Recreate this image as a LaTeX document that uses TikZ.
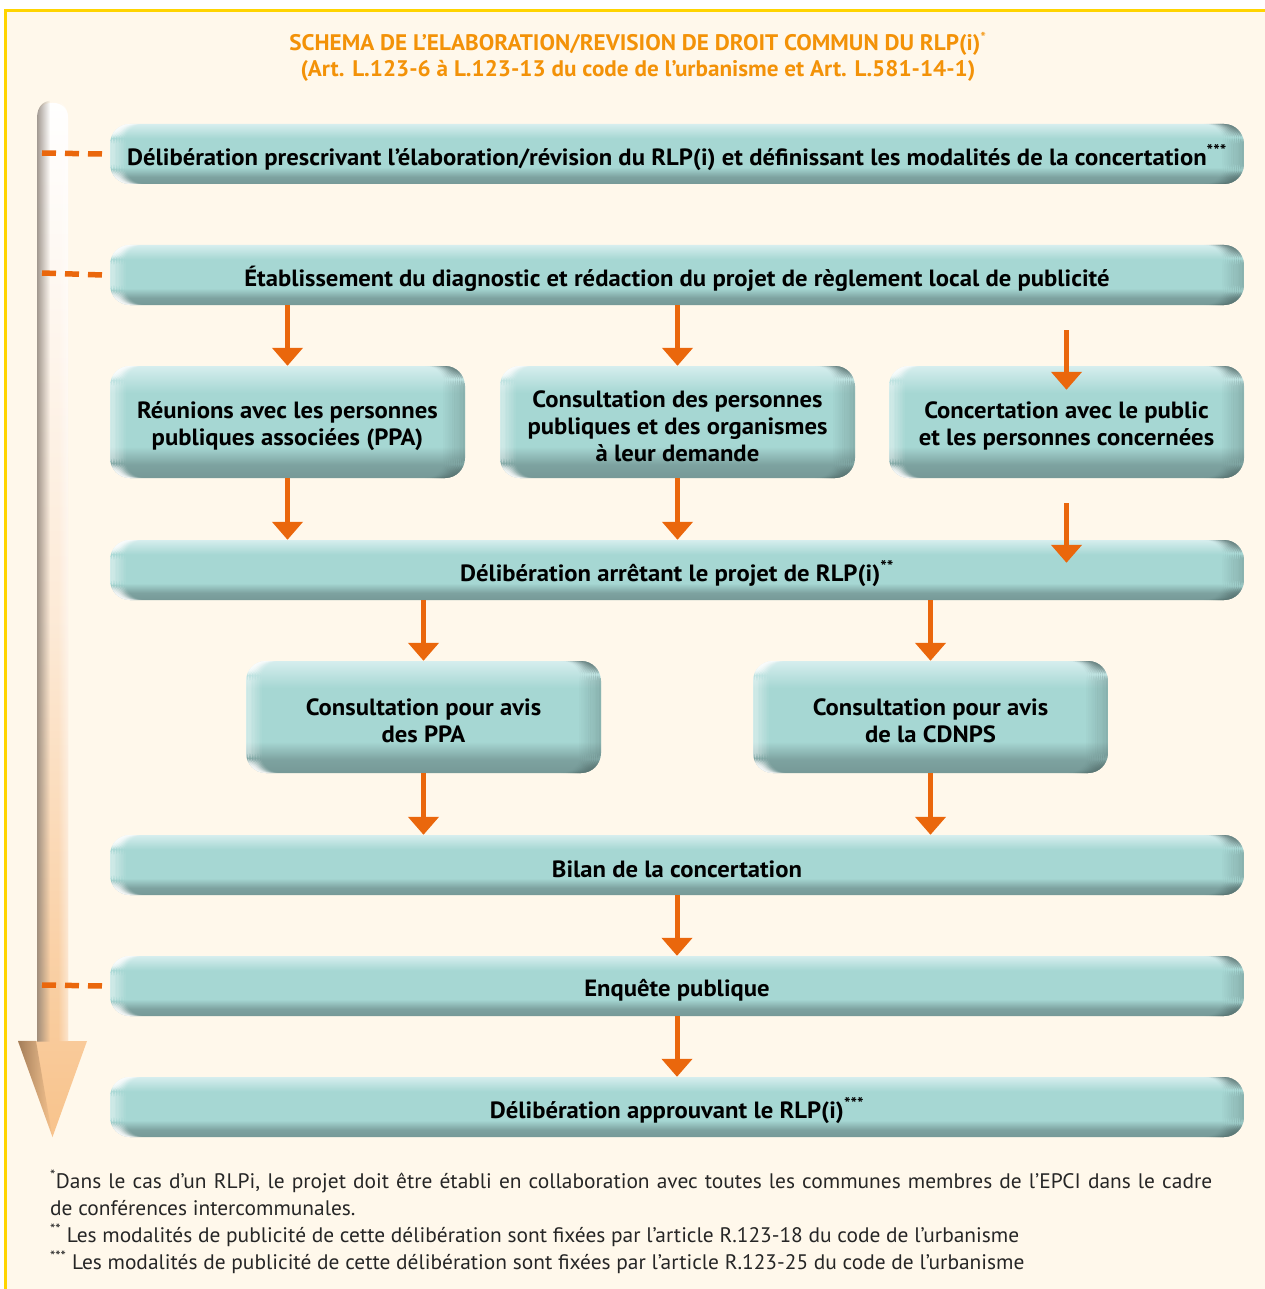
\documentclass[tikz,border=0pt]{standalone}
\usepackage{fontspec}
\setmainfont{PT Sans}
\newfontfamily\boxfont[FakeStretch=1.05]{PT Sans}
\newfontfamily\titlefont[FakeStretch=1.03]{PT Sans}
\newfontfamily\notefont[FakeStretch=1.02]{PT Sans}
\usetikzlibrary{arrows.meta,fadings,calc}
\definecolor{cream}{HTML}{FFF8EB}
\definecolor{frameY}{HTML}{FFD400}
\definecolor{oarr}{HTML}{EA670C}
\definecolor{otitle}{HTML}{F39208}
\definecolor{tealL}{HTML}{D6EEEE}
\definecolor{tealM}{HTML}{A6D7D3}
\definecolor{tealD}{HTML}{769997}
\definecolor{peach}{HTML}{F8C38C}
\definecolor{brownE}{HTML}{8E6A48}
\pgfdeclareverticalshading{tealbox}{100bp}{color(0bp)=(tealD); color(25bp)=(tealD); color(31bp)=(tealD!85!tealM); color(39bp)=(tealM); color(63bp)=(tealM); color(75bp)=(tealL); color(100bp)=(tealL)}
\tikzfading[name=fadeR, left color=transparent!0, right color=transparent!100]
\tikzfading[name=fadeL, left color=transparent!100, right color=transparent!0]
\tikzset{
  box/.style={shading=tealbox, rounded corners=20pt, inner sep=0pt,
    path picture={
      \foreach \i in {1,...,10}{
        \fill[tealD!75!black, fill opacity=0.035*\i]
          ([xshift=-24pt+2.2*\i pt]path picture bounding box.north east)
          rectangle ([xshift=-21.8pt+2.2*\i pt]path picture bounding box.south east);
        \fill[white, fill opacity=0.05*(11-\i)]
          ([xshift=1.6*\i pt-1.6pt]path picture bounding box.north west)
          rectangle ([xshift=1.6*\i pt]path picture bounding box.south west);
      }
    }},
  wide/.style={box, minimum width=1134pt, minimum height=60pt},
  small/.style={box, minimum width=355pt, minimum height=112pt},
  lbl/.style={inner sep=0pt, align=center, text=black,
    font=\boxfont\bfseries\fontsize{23.5}{27}\selectfont},
  oarrow/.style={draw=oarr, line width=5pt, -{Triangle[width=30pt,length=18pt]}},
  odash/.style={draw=oarr, line width=5.5pt, dash pattern=on 14pt off 9pt},
}
\newcommand\bx[4]{\node[#1] (#2) at (#3) {};
  \node[lbl] (#2t) at ([yshift=-4pt]#2.center) {#4};}
\begin{document}
\begin{tikzpicture}[x=1pt,y=-1pt]
\useasboundingbox (0,0) rectangle (1264,1289);
\fill[white] (0,0) rectangle (1264,1289);
\fill[cream] (5,11) rectangle (1275,1300);
\draw[frameY, line width=3pt] (5,1300) -- (5,11) -- (1275,11);

% title
\node[font=\titlefont\bfseries\fontsize{22.5}{26}\selectfont, text=otitle, align=center] (title) at (638,57)
  {SCHEMA DE L’ELABORATION/REVISION DE DROIT COMMUN DU RLP(i)\textsuperscript{\mdseries *}\\
   (Art. L.123-6 à L.123-13 du code de l’urbanisme et Art. L.581-14-1)};

% left timeline arrow
\shade[top color=white, bottom color=peach, middle color=peach!35!white]
  (37,1041) -- (37,117) .. controls (37,98) and (68,98) .. (68,117) -- (68,1041)
  -- (87,1041) -- (52.5,1137) -- (18,1041) -- cycle;
\fill[gray!70!brownE, path fading=fadeR, fill opacity=0.75]
  (37,1041) -- (37,117) .. controls (37,104) and (44,100) .. (50,99) -- (50,1041) -- cycle;
\fill[brownE, path fading=fadeR, fill opacity=0.8]
  (18,1041) -- (36,1041) -- (52.5,1137) -- cycle;
\fill[white, path fading=fadeL, fill opacity=0.5]
  (58,1041) -- (58,100) .. controls (63,102) and (68,108) .. (68,117) -- (68,1041) -- cycle;

% boxes
\bx{wide}{b1}{677,154}{Délibération prescrivant l’élaboration/révision du RLP(i) et définissant les modalités de la concertation\textsuperscript{***}}
\bx{wide}{b2}{677,275}{Établissement du diagnostic et rédaction du projet de règlement local de publicité}
\bx{small}{b3a}{287.5,422}{Réunions avec les personnes\\publiques associées (PPA)}
\bx{small}{b3b}{677.5,422}{Consultation des personnes\\publiques et des organismes\\à leur demande}
\bx{small}{b3c}{1066.5,422}{Concertation avec le public\\et les personnes concernées}
\bx{wide}{b4}{677,570}{Délibération arrêtant le projet de RLP(i)\textsuperscript{**}}
\bx{small}{b5a}{423.5,717}{Consultation pour avis\\des PPA}
\bx{small}{b5b}{930.5,717}{Consultation pour avis\\de la CDNPS}
\bx{wide}{b6}{677,865}{Bilan de la concertation}
\bx{wide}{b7}{677,986}{Enquête publique}
\bx{wide}{b8}{677,1107}{Délibération approuvant le RLP(i)\textsuperscript{***}}

% dashed links to timeline
\coordinate (d1) at (42,153);
\coordinate (d2) at (42,273);
\coordinate (d7) at (42,985);
\draw[odash] (d1) -- ([xshift=-7pt]b1.west);
\draw[odash] (d2) -- ([xshift=-7pt]b2.west);
\draw[odash] (d7) -- ([xshift=-7pt]b7.west);

% flow arrows
\draw[oarrow] (b3a.north |- b2.south) -- (b3a.north);
\draw[oarrow] (b3b.north |- b2.south) -- (b3b.north);
\draw[oarrow] ([yshift=-25pt]b3c.north |- b2.south) -- ([yshift=-24pt]b3c.north);
\draw[oarrow] (b3a.south) -- (b3a.south |- b4.north);
\draw[oarrow] (b3b.south) -- (b3b.south |- b4.north);
\draw[oarrow] ([yshift=-25pt]b3c.south) -- ([yshift=-23pt]b3c.south |- b4.north);
\draw[oarrow] (b5a.north |- b4.south) -- (b5a.north);
\draw[oarrow] (b5b.north |- b4.south) -- (b5b.north);
\draw[oarrow] (b5a.south) -- (b5a.south |- b6.north);
\draw[oarrow] (b5b.south) -- (b5b.south |- b6.north);
\draw[oarrow] (b6.south) -- (b7.north);
\draw[oarrow] (b7.south) -- (b8.north);

% footnotes
\node[anchor=north west, inner sep=0pt, text width=1162pt, align=justify,
  font=\notefont\fontsize{21}{27}\selectfont, text=black!85] (notes) at (50,1170)
  {\hyphenpenalty=10000 \textsuperscript{*}Dans le cas d’un RLPi, le projet doit être établi en collaboration avec toutes les communes membres de l’EPCI dans le cadre\linebreak de conférences intercommunales.\par
   \textsuperscript{**} Les modalités de publicité de cette délibération sont fixées par l’article R.123-18 du code de l’urbanisme\par
   \textsuperscript{***} Les modalités de publicité de cette délibération sont fixées par l’article R.123-25 du code de l’urbanisme};
\end{tikzpicture}
\end{document}
